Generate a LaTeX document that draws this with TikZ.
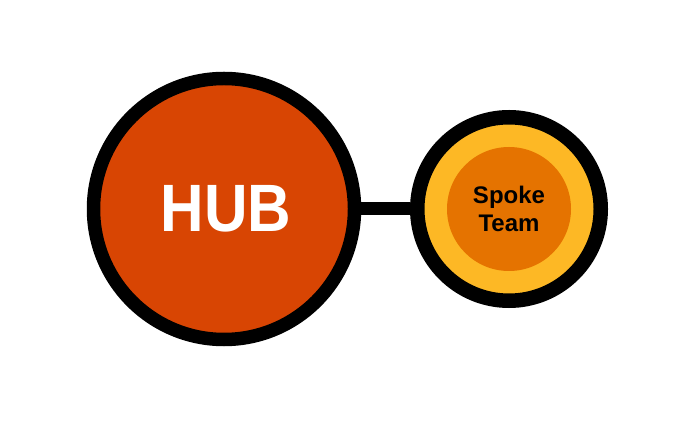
\documentclass[tikz,border=0pt]{standalone}
\usepackage{fontspec}
\setmainfont{Liberation Sans}
\newfontfamily\hubfont[FakeStretch=0.9]{Liberation Sans}
\definecolor{hubred}{HTML}{D84503}
\definecolor{spokeyellow}{HTML}{FDB825}
\definecolor{spokeorange}{HTML}{E57300}
\tikzset{
  hubnode/.style={circle, draw=black, fill=hubred, line width=13.5pt, minimum size=261pt, inner sep=0pt},
  spokenode/.style={circle, draw=black, fill=spokeyellow, line width=14.5pt, minimum size=183.5pt, inner sep=0pt},
  spokeinner/.style={circle, fill=spokeorange, minimum size=124pt, inner sep=0pt},
  link/.style={line width=13pt, draw=black}
}
\begin{document}
\begin{tikzpicture}[x=1pt,y=1pt]
\fill[white] (0,0) rectangle (692,420);
\useasboundingbox (0,0) rectangle (692,420);
\node[hubnode] (hub) at (224,211) {};
\node[spokenode] (spoke) at (509,211) {};
\node[spokeinner] (inner) at (509,211) {};
\draw[link] (hub.east) -- (spoke.west);
\node[text=white, font=\hubfont\bfseries\fontsize{67}{67}\selectfont, inner sep=0pt] (hubtext) at (226,211) {HUB};
\node[text=black, align=center, inner sep=0pt, font=\bfseries\fontsize{24}{28}\selectfont] (spoketext) at (509,211.5) {Spoke\\Team};
\end{tikzpicture}
\end{document}
